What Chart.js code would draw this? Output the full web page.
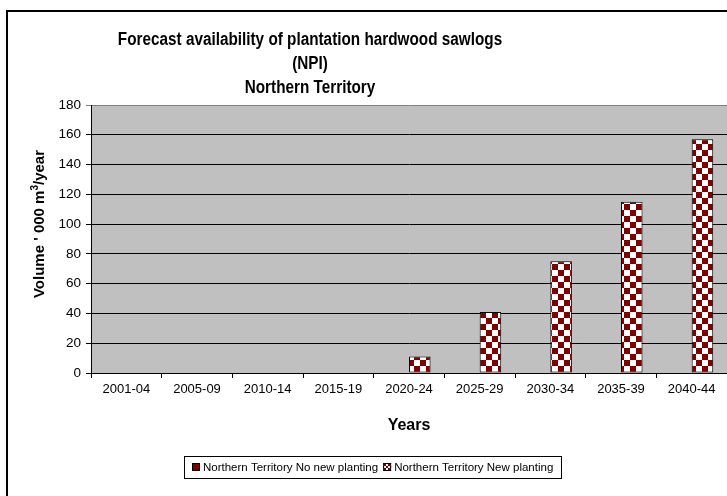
<!DOCTYPE html>
<html><head><meta charset="utf-8">
<script src="https://cdn.jsdelivr.net/npm/chart.js"></script>
<style>html,body{margin:0;padding:0;background:#fff;overflow:hidden}</style>
</head><body><canvas id="c" width="727" height="496"></canvas>
<script>
const categories = ['2001-04','2005-09','2010-14','2015-19','2020-24','2025-29','2030-34','2035-39','2040-44'];
const noNewPlanting = [0,0,0,0,0,0,0,0,0];
const newPlanting = [0,0,0,0,11,41,75,115,157];
const yMin = 0, yMax = 180, yStep = 20;
const titleLines = ['Forecast availability of plantation hardwood sawlogs','(NPI)','Northern Territory'];
const seriesNames = ['Northern Territory No new planting','Northern Territory New planting'];
const xTitle = 'Years';
const yTitleParts = ["Volume ' 000 m", '3', '/year'];

const FONT = "'Liberation Sans', Arial, sans-serif";
const DARK = '#800000';
const canvas = document.getElementById('c');
const mainCtx = canvas.getContext('2d');
function makeChecker(ctx, s){
  const c = document.createElement('canvas'); c.width = 2*s; c.height = 2*s;
  const x = c.getContext('2d');
  x.fillStyle = '#fff'; x.fillRect(0,0,2*s,2*s);
  x.fillStyle = DARK; x.fillRect(0,0,s,s); x.fillRect(s,s,s,s);
  return ctx.createPattern(c,'repeat');
}
const checker = makeChecker(mainCtx, 6);

const decor = {
  id: 'decor',
  beforeDraw(chart){
    const {ctx, chartArea:a} = chart;
    ctx.save();
    ctx.fillStyle = '#C0C0C0';
    ctx.fillRect(a.left, a.top, a.right - a.left, a.bottom - a.top);
    ctx.restore();
  },
  afterDraw(chart){
    const ctx = chart.ctx;
    ctx.save();
    // outer chart border
    ctx.strokeStyle = '#000'; ctx.lineWidth = 2;
    ctx.strokeRect(7, 11, 800, 600);
    // title (slightly condensed bold)
    ctx.fillStyle = '#000';
    ctx.font = 'bold 18px ' + FONT;
    ctx.textAlign = 'center'; ctx.textBaseline = 'middle';
    const ys = [40, 64, 88];
    titleLines.forEach((t,i)=>{
      ctx.save();
      ctx.translate(310, ys[i]);
      ctx.scale(0.85, 1);
      ctx.fillText(t, 0, 0);
      ctx.restore();
    });
    // y axis title with superscript
    ctx.save();
    ctx.translate(40, 224);
    ctx.rotate(-Math.PI/2);
    ctx.textAlign = 'left'; ctx.textBaseline = 'middle';
    const bigF = 'bold 15px ' + FONT, supF = 'bold 10px ' + FONT;
    ctx.font = bigF; const wa = ctx.measureText(yTitleParts[0]).width;
    const wc = ctx.measureText(yTitleParts[2]).width;
    ctx.font = supF; const wb = ctx.measureText(yTitleParts[1]).width;
    let x0 = -(wa + wb + wc)/2;
    ctx.font = bigF; ctx.fillText(yTitleParts[0], x0, 0); x0 += wa;
    ctx.font = supF; ctx.fillText(yTitleParts[1], x0, -5); x0 += wb;
    ctx.font = bigF; ctx.fillText(yTitleParts[2], x0, 0);
    ctx.restore();
    // legend
    ctx.font = '11.5px ' + FONT;
    ctx.textAlign = 'left'; ctx.textBaseline = 'middle';
    const m = 8, gap = 3, pad = 8, sep = 5;
    const w1 = ctx.measureText(seriesNames[0]).width;
    const w2 = ctx.measureText(seriesNames[1]).width;
    const total = pad + m + gap + w1 + sep + m + gap + w2 + pad;
    const cx = 373, cy = 467, h = 22;
    const left = Math.round(cx - total/2);
    ctx.lineWidth = 1; ctx.strokeStyle = '#000';
    ctx.strokeRect(left + 0.5, cy - h/2 + 0.5, Math.round(total), h);
    let x = left + pad;
    ctx.fillStyle = DARK;
    ctx.fillRect(x, cy - m/2, m, m);
    ctx.strokeRect(x + 0.5, cy - m/2 + 0.5, m - 1, m - 1);
    x += m + gap;
    ctx.fillStyle = '#000';
    ctx.fillText(seriesNames[0], x, cy + 0.5);
    x += w1 + sep;
    ctx.fillStyle = makeChecker(ctx, 2);
    ctx.fillRect(x, cy - m/2, m, m);
    ctx.strokeRect(x + 0.5, cy - m/2 + 0.5, m - 1, m - 1);
    x += m + gap;
    ctx.fillStyle = '#000';
    ctx.fillText(seriesNames[1], x, cy + 0.5);
    ctx.restore();
  }
};

new Chart(canvas, {
  type: 'bar',
  data: {
    labels: categories,
    datasets: [
      { label: seriesNames[0], data: noNewPlanting, backgroundColor: DARK, borderColor: '#000', borderWidth: 0 },
      { label: seriesNames[1], data: newPlanting, backgroundColor: checker, borderColor: '#000', borderWidth: 1, borderSkipped: false }
    ]
  },
  options: {
    responsive: false,
    animation: false,
    devicePixelRatio: 1,
    layout: { padding: { top: 105, left: 0, right: 0, bottom: 61 } },
    datasets: { bar: { categoryPercentage: 0.61, barPercentage: 1 } },
    plugins: { legend: { display: false }, title: { display: false }, tooltip: { enabled: false } },
    scales: {
      x: {
        offset: true,
        grid: { display: true, drawOnChartArea: false, drawTicks: true, tickLength: 5, color: '#000', offset: true },
        border: { color: '#000', width: 1 },
        ticks: { color: '#000', font: { family: FONT, size: 13 }, padding: 4, maxRotation: 0, autoSkip: false },
        title: { display: true, text: xTitle, color: '#000', font: { family: FONT, size: 16, weight: 'bold' }, padding: { top: 0, bottom: 0 } },
        afterFit(s){ s.height = 62; }
      },
      y: {
        min: yMin, max: yMax,
        ticks: { stepSize: yStep, color: '#000', font: { family: FONT, size: 13.5 }, padding: 5 },
        grid: { color: (c) => c.tick && c.tick.value === yMax ? '#808080' : '#000', tickLength: 5 },
        border: { color: '#000', width: 1 },
        title: { display: false },
        afterFit(s){ s.width = 91; }
      }
    }
  },
  plugins: [decor]
});
</script>
</body></html>
